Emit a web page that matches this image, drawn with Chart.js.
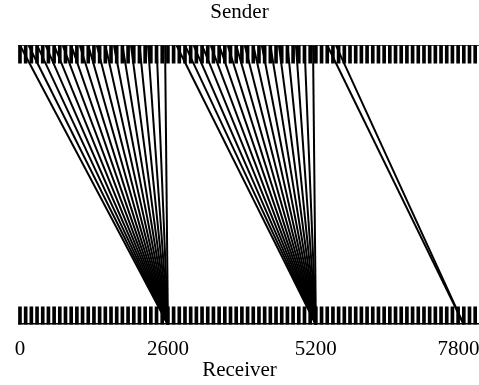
<!DOCTYPE html>
<html><head><meta charset="utf-8">
<script src="https://cdn.jsdelivr.net/npm/chart.js@4/dist/chart.umd.min.js"></script>
<style>html,body{margin:0;padding:0;background:#fff}</style>
</head><body>
<canvas id="c" width="479" height="385"></canvas>
<script>
// Axis tick labels (receiver positions)
const tickLabels = [0, 2600, 5200, 7800];
// Ruler (comb) positions for sender row and receiver row
const combPositions = [0,100,200,300,400,500,600,700,800,900,1000,1100,1200,1300,1400,1500,1600,1700,1800,1900,
  2000,2100,2200,2300,2400,2500,2600,2700,2800,2900,3000,3100,3200,3300,3400,3500,3600,3700,3800,3900,
  4000,4100,4200,4300,4400,4500,4600,4700,4800,4900,5000,5100,5200,5300,5400,5500,5600,5700,5800,5900,
  6000,6100,6200,6300,6400,6500,6600,6700,6800,6900,7000,7100,7200,7300,7400,7500,7600,7700,7800,7900,8000];
// Links: sender position -> receiver position
const linkSenders = [0,150,300,450,600,750,900,1050,1200,1350,1500,1650,1800,1950,2100,2250,2400,2550,
  2750,2900,3050,3200,3350,3500,3650,3800,3950,4100,4250,4400,4550,4700,4850,5000,5150,
  5400,5550];
const linkReceivers = [2600,2600,2600,2600,2600,2600,2600,2600,2600,2600,2600,2600,2600,2600,2600,2600,2600,2600,
  5200,5200,5200,5200,5200,5200,5200,5200,5200,5200,5200,5200,5200,5200,5200,5200,5200,
  7800,7800];
const rulerStart = -35, rulerEnd = 8070;

const FONT = '"Liberation Serif","Times New Roman",serif';
const datasets = [];
datasets.push({type:'bar', data: combPositions.map(v=>({x:v, y:[0.936,1]})), backgroundColor:'#000', borderWidth:0, barThickness:3, grouped:false, order:2});
datasets.push({type:'bar', data: combPositions.map(v=>({x:v, y:[0,0.064]})), backgroundColor:'#000', borderWidth:0, barThickness:3, grouped:false, order:2});
datasets.push({type:'line', data:[{x:rulerStart,y:1},{x:rulerEnd,y:1}], borderColor:'#000', borderWidth:1.5, pointRadius:0, order:1});
datasets.push({type:'line', data:[{x:rulerStart,y:0},{x:rulerEnd,y:0}], borderColor:'#000', borderWidth:3, pointRadius:0, order:1});
linkSenders.forEach((s,i)=>{
  datasets.push({type:'line', data:[{x:s,y:1},{x:linkReceivers[i],y:0}], borderColor:'#000', borderWidth:2, pointRadius:0, order:0});
});

new Chart(document.getElementById('c'), {
  type:'bar',
  data:{datasets},
  options:{
    responsive:false, animation:false, devicePixelRatio:1,
    layout:{padding:{left:0,right:0,top:0,bottom:2}},
    plugins:{
      legend:{display:false}, tooltip:{enabled:false},
      title:{display:true, text:'Sender', color:'#000', font:{family:FONT,size:21,weight:'normal'}, padding:{top:0,bottom:20}}
    },
    scales:{
      x:{type:'linear', min:-351, max:8067, offset:false,
        afterBuildTicks:(s)=>{ s.ticks = tickLabels.map(v=>({value:v})); },
        afterFit:(s)=>{ s.paddingLeft=0; s.paddingRight=0; },
        grid:{display:false, drawTicks:false}, border:{display:false},
        ticks:{color:'#000', font:{family:FONT,size:21}, padding:12, maxRotation:0, autoSkip:false,
          callback:(v,i,arr)=> i===arr.length-1 ? String(v)+'  ' : String(v)},
        title:{display:true, text:'Receiver', color:'#000', font:{family:FONT,size:21}, padding:{top:-16,bottom:0}}
      },
      y:{display:false, min:0, max:1}
    }
  }
});
</script>
</body></html>
